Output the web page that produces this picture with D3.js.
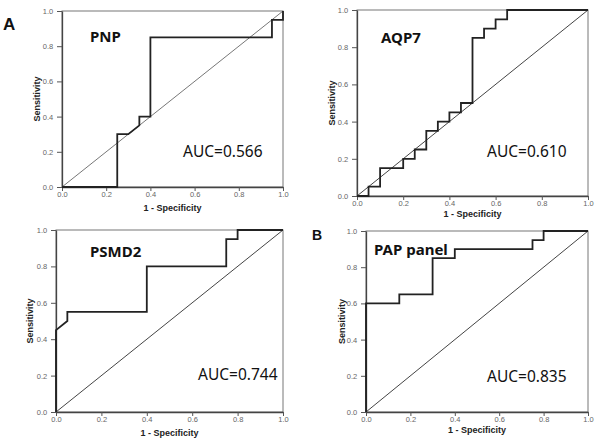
<!DOCTYPE html>
<html><head><meta charset="utf-8">
<script src="https://cdn.jsdelivr.net/npm/d3@7"></script>
<style>html,body{margin:0;padding:0;background:#fff;}svg{display:block;}</style>
</head><body>
<svg id="chart" width="600" height="441"></svg>
<script>
// ---- data ----
const tickValues = [0, 0.2, 0.4, 0.6, 0.8, 1.0];
const tickLabels = ["0.0", "0.2", "0.4", "0.6", "0.8", "1.0"];
const panelNames = ["PNP", "AQP7", "PSMD2", "PAP panel"];
const aucLabels = ["AUC=0.566", "AUC=0.610", "AUC=0.744", "AUC=0.835"];
const pnpFPR = [0, 0.25, 0.25, 0.30, 0.35, 0.35, 0.40, 0.40, 0.95, 0.95, 1.00, 1.00];
const pnpTPR = [0, 0.00, 0.30, 0.30, 0.35, 0.40, 0.40, 0.85, 0.85, 0.95, 0.95, 1.00];
const aqp7FPR = [0, 0.05, 0.05, 0.10, 0.10, 0.20, 0.20, 0.25, 0.25, 0.30, 0.30, 0.35, 0.35, 0.40, 0.40, 0.45, 0.45, 0.50, 0.50, 0.55, 0.55, 0.60, 0.60, 0.65, 0.65, 1.00];
const aqp7TPR = [0, 0.00, 0.05, 0.05, 0.15, 0.15, 0.20, 0.20, 0.25, 0.25, 0.35, 0.35, 0.40, 0.40, 0.45, 0.45, 0.50, 0.50, 0.85, 0.85, 0.90, 0.90, 0.95, 0.95, 1.00, 1.00];
const psmd2FPR = [0, 0.00, 0.05, 0.05, 0.40, 0.40, 0.75, 0.75, 0.80, 0.80, 1.00];
const psmd2TPR = [0, 0.45, 0.50, 0.55, 0.55, 0.80, 0.80, 0.95, 0.95, 1.00, 1.00];
const papFPR = [0, 0.00, 0.15, 0.15, 0.30, 0.30, 0.40, 0.40, 0.75, 0.75, 0.80, 0.80, 1.00];
const papTPR = [0, 0.60, 0.60, 0.65, 0.65, 0.85, 0.85, 0.90, 0.90, 0.95, 0.95, 1.00, 1.00];
const curvesX = [pnpFPR, aqp7FPR, psmd2FPR, papFPR];
const curvesY = [pnpTPR, aqp7TPR, psmd2TPR, papTPR];

// ---- layout ----
const layout = [
  {x0: 62, x1: 283, y0: 11, y1: 187, title: [90, 42], auc: [183, 157], xt: 209, yt: 38},
  {x0: 357, x1: 588, y0: 10, y1: 196, title: [381, 43], auc: [487, 157], xt: 215, yt: 333},
  {x0: 56, x1: 283, y0: 230, y1: 412, title: [90, 257], auc: [198, 380], xt: 434, yt: 31},
  {x0: 366, x1: 588, y0: 231, y1: 412, title: [374, 255], auc: [487, 382], xt: 431, yt: 343}
];

const svg = d3.select("#chart");
svg.append("text").attr("x", 3).attr("y", 30).text("A")
  .attr("font-family", "Liberation Sans, Arial, sans-serif").attr("font-weight", "bold").attr("font-size", 17).attr("fill", "#111");
svg.append("text").attr("x", 312).attr("y", 240).text("B")
  .attr("font-family", "Liberation Sans, Arial, sans-serif").attr("font-weight", "bold").attr("font-size", 14).attr("fill", "#111");

layout.forEach((L, i) => {
  const x = d3.scaleLinear().domain([0, 1]).range([L.x0, L.x1]);
  const y = d3.scaleLinear().domain([0, 1]).range([L.y1, L.y0]);
  const g = svg.append("g");

  // box
  g.append("rect").attr("x", L.x0).attr("y", L.y0).attr("width", L.x1 - L.x0).attr("height", L.y1 - L.y0)
    .attr("fill", "none").attr("stroke", "#777").attr("stroke-width", 1);

  // diagonal reference
  g.append("line").attr("x1", x(0)).attr("y1", y(0)).attr("x2", x(1)).attr("y2", y(1))
    .attr("stroke", i === 0 ? "#777" : "#444").attr("stroke-width", 1);

  // axes
  const xAxis = d3.axisBottom(x).tickValues(tickValues).tickFormat((d, k) => tickLabels[k]).tickSize(4).tickSizeOuter(0);
  const yAxis = d3.axisLeft(y).tickValues(tickValues).tickFormat((d, k) => tickLabels[k]).tickSize(5).tickSizeOuter(0);
  const gx = g.append("g").attr("transform", `translate(0,${L.y1})`).call(xAxis);
  const gy = g.append("g").attr("transform", `translate(${L.x0},0)`).call(yAxis);
  [gx, gy].forEach(a => {
    a.select(".domain").attr("stroke", "#444").attr("stroke-width", 1.3);
    a.selectAll(".tick line").attr("stroke", "#555");
    a.selectAll(".tick text").attr("font-family", "Liberation Sans, Arial, sans-serif")
      .attr("font-size", 7.5).attr("fill", "#666");
  });
  gx.selectAll(".tick text").attr("dy", "0.4em");
  gy.selectAll(".tick text").attr("dx", "-0.1em");

  // axis titles
  g.append("text").attr("x", (L.x0 + L.x1) / 2).attr("y", L.xt).attr("text-anchor", "middle")
    .attr("dominant-baseline", "middle").text("1 - Specificity")
    .attr("font-family", "Liberation Sans, Arial, sans-serif").attr("font-weight", "bold").attr("font-size", 9).attr("fill", "#222");
  g.append("text").attr("transform", `translate(${L.yt},${(L.y0 + L.y1) / 2}) rotate(-90)`)
    .attr("text-anchor", "middle").attr("dominant-baseline", "middle").text("Sensitivity")
    .attr("font-family", "Liberation Sans, Arial, sans-serif").attr("font-weight", "bold").attr("font-size", 9).attr("fill", "#222");

  // ROC curve
  const pts = curvesX[i].map((v, k) => [v, curvesY[i][k]]);
  g.append("path").datum(pts)
    .attr("d", d3.line().x(d => x(d[0])).y(d => y(d[1])))
    .attr("fill", "none").attr("stroke", "#222").attr("stroke-width", 1.8).attr("stroke-linejoin", "miter");

  // labels
  g.append("text").attr("x", L.title[0]).attr("y", L.title[1]).text(panelNames[i])
    .attr("font-family", "Noto Sans, Open Sans, sans-serif").attr("font-weight", "bold").attr("font-size", 15).attr("fill", "#111");
  g.append("text").attr("x", L.auc[0]).attr("y", L.auc[1]).text(aucLabels[i])
    .attr("font-family", "Noto Sans, Open Sans, sans-serif").attr("font-size", 15.5).attr("fill", "#111");
});
</script>
</body></html>
